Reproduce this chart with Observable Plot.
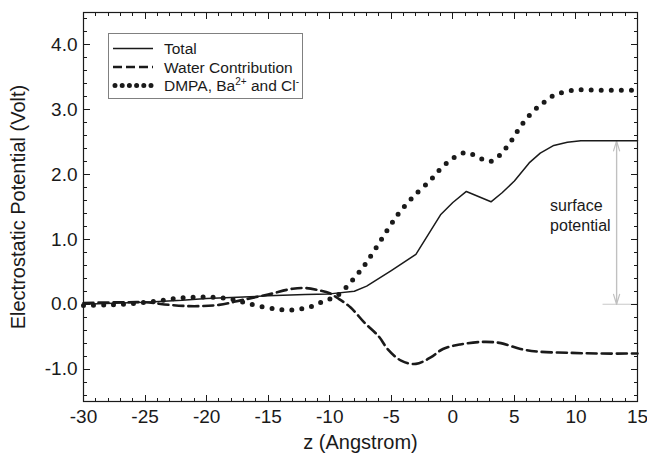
<!DOCTYPE html>
<html>
<head>
<meta charset="utf-8">
<script src="https://cdn.jsdelivr.net/npm/d3@7"></script>
<script src="https://cdn.jsdelivr.net/npm/@observablehq/plot@0.6"></script>
<style>
  html, body { margin: 0; padding: 0; background: #fff; }
  svg { font-family: "Liberation Sans", Arial, sans-serif; }
</style>
</head>
<body>
<div id="chart"></div>
<script>
// ---- data ----
const totalZ = [-30,-27,-25,-22,-20,-17,-15,-12,-10,-8,-7,-5,-3,-1,0,1.1,3.1,4,5,6.2,7.1,8.2,9.3,10.4,12,15];
const totalV = [0.0,0.02,0.03,0.06,0.09,0.11,0.13,0.15,0.16,0.2,0.28,0.52,0.77,1.38,1.57,1.74,1.58,1.72,1.9,2.18,2.33,2.45,2.5,2.52,2.52,2.52];

const waterZ = [-30,-27,-25,-23,-21,-19,-17,-15,-13,-12,-11,-10,-9.4,-8.3,-7.2,-6,-5.3,-4.2,-3,-1.8,-0.8,0.6,2.5,3.9,5.5,6.9,9.6,12,15];
const waterV = [0.02,0.03,0.03,-0.01,-0.03,-0.01,0.07,0.15,0.24,0.25,0.22,0.17,0.1,-0.05,-0.28,-0.5,-0.69,-0.87,-0.92,-0.82,-0.69,-0.62,-0.58,-0.6,-0.69,-0.73,-0.75,-0.76,-0.76];

const dmpaZ = [-30,-28,-26,-24,-22,-20,-18,-16.4,-14.5,-13.2,-12,-11,-10.5,-9.4,-8.3,-7.3,-6.4,-5.3,-4.4,-3.4,-1.8,-0.6,1.0,2.5,3.2,4.4,5.6,6.5,7.3,8.2,9.8,12,15];
const dmpaV = [-0.02,-0.01,0.01,0.05,0.1,0.11,0.08,0.0,-0.07,-0.09,-0.06,0.0,0.05,0.13,0.34,0.57,0.82,1.15,1.4,1.62,1.92,2.16,2.34,2.23,2.21,2.43,2.77,2.97,3.1,3.22,3.3,3.3,3.3];

const xMajor = [-30,-25,-20,-15,-10,-5,0,5,10,15];
const xMinor = d3.range(-30, 15.01, 1);
const yMajor = [-1,0,1,2,3,4];
const yMinor = d3.range(-1.4, 4.41, 0.2).map(v => Math.round(v*10)/10);

const surfaceTop = 2.52;   // total potential plateau
const surfaceZ = 13.3;
const legendItems = ["Total", "Water Contribution", "DMPA"];

const toRows = (zs, vs) => zs.map((z, i) => ({z, v: vs[i]}));
const total = toRows(totalZ, totalV);
const water = toRows(waterZ, waterV);
const dmpa = toRows(dmpaZ, dmpaV);

const ink = "#1a1a1a";
const xDom = [-30, 15], yDom = [-1.5, 4.5];

const chart = Plot.plot({
  width: 647,
  height: 455,
  marginLeft: 83,
  marginRight: 10,
  marginTop: 12,
  marginBottom: 54,
  style: {fontFamily: "Liberation Sans, Arial, sans-serif", color: ink, background: "#fff"},
  x: {domain: xDom},
  y: {domain: yDom},
  marks: [
    Plot.axisX({ticks: xMajor, tickSize: 0, tickPadding: 8, tickFormat: d => String(d), fontSize: 19, label: null}),
    Plot.axisY({ticks: yMajor, tickSize: 0, tickPadding: 6, tickFormat: d => d.toFixed(1), fontSize: 19, label: null}),
    // surface potential annotation
    Plot.ruleY([0], {x1: 12.2, x2: 15, stroke: "#c8c8c8", strokeWidth: 1.2}),
    Plot.arrow([{z: surfaceZ, a: surfaceTop, b: 0}], {x1: "z", x2: "z", y1: "a", y2: "b", stroke: "#c0c0c0", strokeWidth: 1.2, headLength: 13, headAngle: 34}),
    Plot.arrow([{z: surfaceZ, a: surfaceTop, b: 0}], {x1: "z", x2: "z", y1: "b", y2: "a", stroke: "#c0c0c0", strokeWidth: 1.2, headLength: 13, headAngle: 34}),
    Plot.text(["surface\npotential"], {x: 7.9, y: 1.38, text: d => d, textAnchor: "start", fontSize: 16, lineHeight: 1.25, fill: ink}),
    // series
    Plot.line(water, {x: "z", y: "v", curve: "catmull-rom", stroke: ink, strokeWidth: 2.6, strokeDasharray: "10 5"}),
    Plot.line(dmpa, {x: "z", y: "v", curve: "catmull-rom", stroke: ink, strokeWidth: 5, strokeDasharray: "0 10", strokeLinecap: "round"}),
    Plot.line(total, {x: "z", y: "v", stroke: ink, strokeWidth: 1.5}),
    Plot.frame({stroke: ink, strokeWidth: 1.2}),
    // axis titles
    Plot.text(["z (Angstrom)"], {frameAnchor: "bottom", dy: 47, text: d => d, fontSize: 20, fill: ink, textAnchor: "middle"}),
    Plot.text(["Electrostatic Potential (Volt)"], {frameAnchor: "left", dx: -65, rotate: -90, text: d => d, fontSize: 20, fill: ink, textAnchor: "middle"})
  ]
});

const svg = d3.select(chart);

// inward ticks on all four sides, positioned by Plot's own scales
(function drawTicks() {
  const sx = chart.scale("x"), sy = chart.scale("y");
  const px = v => Math.round(sx.apply(v)) + 0.5;
  const py = v => Math.round(sy.apply(v)) + 0.5;
  const xL = sx.apply(xDom[0]), xR = sx.apply(xDom[1]);
  const yB = sy.apply(yDom[0]), yT = sy.apply(yDom[1]);
  const tg = svg.append("g").attr("stroke", ink).attr("stroke-width", 1).attr("shape-rendering", "crispEdges");
  const addX = (vals, len) => vals.forEach(v => {
    tg.append("line").attr("x1", px(v)).attr("x2", px(v)).attr("y1", yB).attr("y2", yB - len);
    tg.append("line").attr("x1", px(v)).attr("x2", px(v)).attr("y1", yT).attr("y2", yT + len);
  });
  const addY = (vals, len) => vals.forEach(v => {
    tg.append("line").attr("y1", py(v)).attr("y2", py(v)).attr("x1", xL).attr("x2", xL + len);
    tg.append("line").attr("y1", py(v)).attr("y2", py(v)).attr("x1", xR).attr("x2", xR - len);
  });
  addX(xMinor, 3.5); addX(xMajor, 6.5);
  addY(yMinor, 3.5); addY(yMajor, 6.5);
})();

// legend box drawn into the same SVG
const lg = svg.append("g").attr("font-family", "Liberation Sans, Arial, sans-serif")
  .attr("font-size", 15.5).attr("fill", ink).attr("text-anchor", "start");
lg.append("rect").attr("x", 108.5).attr("y", 33.5).attr("width", 194).attr("height", 65)
  .attr("fill", "#fff").attr("stroke", "#808080").attr("stroke-width", 1);
const legendStyles = [
  {w: 1.5, dash: null, cap: "butt"},
  {w: 2.6, dash: "9 4", cap: "butt"},
  {w: 5, dash: "0 7.2", cap: "round"}
];
legendItems.forEach((name, i) => {
  const ly = 48.5 + i * 18.5;
  const s = legendStyles[i];
  const ln = lg.append("line").attr("x1", i === 2 ? 115 : 113).attr("x2", 153).attr("y1", ly).attr("y2", ly)
    .attr("stroke", ink).attr("stroke-width", s.w).attr("stroke-linecap", s.cap);
  if (s.dash) ln.attr("stroke-dasharray", s.dash);
  const t = lg.append("text").attr("x", 164).attr("y", ly + 5.5);
  if (i < 2) {
    t.text(name);
  } else {
    t.append("tspan").text("DMPA, Ba");
    t.append("tspan").attr("font-size", 10).attr("dy", -6).text("2+");
    t.append("tspan").attr("dy", 6).text(" and Cl");
    t.append("tspan").attr("font-size", 10).attr("dy", -6).text("-");
  }
});

document.getElementById("chart").appendChild(chart);
</script>
</body>
</html>
